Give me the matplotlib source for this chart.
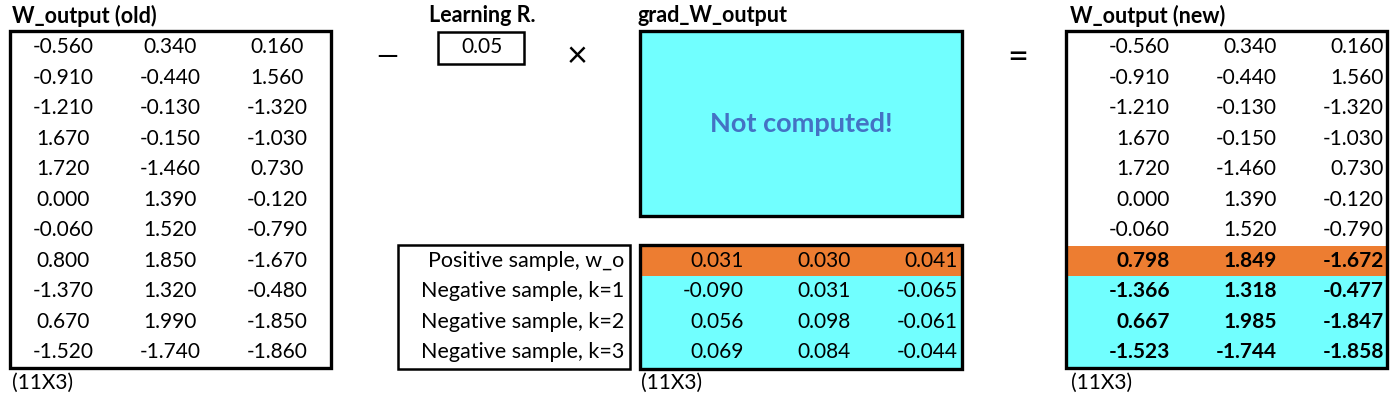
import matplotlib
matplotlib.use("Agg")
import matplotlib.pyplot as plt
from matplotlib.patches import Rectangle

# ---------------- data ----------------
w_old = [
    [-0.560, 0.340, 0.160],
    [-0.910, -0.440, 1.560],
    [-1.210, -0.130, -1.320],
    [1.670, -0.150, -1.030],
    [1.720, -1.460, 0.730],
    [0.000, 1.390, -0.120],
    [-0.060, 1.520, -0.790],
    [0.800, 1.850, -1.670],
    [-1.370, 1.320, -0.480],
    [0.670, 1.990, -1.850],
    [-1.520, -1.740, -1.860],
]
learning_rate = 0.05
grad_labels = ["Positive sample, w_o", "Negative sample, k=1",
               "Negative sample, k=2", "Negative sample, k=3"]
grad_rows = [
    [0.031, 0.030, 0.041],
    [-0.090, 0.031, -0.065],
    [0.056, 0.098, -0.061],
    [0.069, 0.084, -0.044],
]
w_new = [
    [-0.560, 0.340, 0.160],
    [-0.910, -0.440, 1.560],
    [-1.210, -0.130, -1.320],
    [1.670, -0.150, -1.030],
    [1.720, -1.460, 0.730],
    [0.000, 1.390, -0.120],
    [-0.060, 1.520, -0.790],
    [0.798, 1.849, -1.672],
    [-1.366, 1.318, -0.477],
    [0.667, 1.985, -1.847],
    [-1.523, -1.744, -1.858],
]
updated_rows = [7, 8, 9, 10]   # rows touched by the update
shape_label = "(11X3)"
titles = ["W_output (old)", "Learning R.", "grad_W_output", "W_output (new)"]
not_computed = "Not computed!"

# ---------------- style ----------------
CYAN = "#71FFFF"
ORANGE = "#ED7D31"
BLUE = "#4472C4"
FONT = "Lato"
FS = 15
LFS = 15.5
TFS = 15.5

W, H = 1397, 401
fig = plt.figure(figsize=(W / 100, H / 100), dpi=100)
ax = fig.add_axes([0, 0, 1, 1])
ax.set_xlim(0, W)
ax.set_ylim(H, 0)
ax.axis("off")

top = 32.0
rh = 30.5


def rowc(i):
    return top + rh * (i + 0.5)


def box(x0, y0, x1, y1, lw=2.4, fc="none"):
    ax.add_patch(Rectangle((x0, y0), x1 - x0, y1 - y0, facecolor=fc,
                           edgecolor="black", linewidth=lw, zorder=3))


def fill(x0, y0, x1, y1, fc):
    ax.add_patch(Rectangle((x0, y0), x1 - x0, y1 - y0, facecolor=fc,
                           edgecolor="none", zorder=1))


def txt(x, y, s, ha="center", bold=False, size=FS, color="black"):
    ax.text(x, y, s, ha=ha, va="center", fontsize=size, family=FONT,
            fontweight="bold" if bold else "normal", color=color, zorder=4)


# ----- W_output (old) -----
txt(12, 16, titles[0], ha="left", bold=True, size=TFS)
box(10, 31, 331, 368)
old_cols = [63, 170, 277]
for i, row in enumerate(w_old):
    for j, v in enumerate(row):
        txt(old_cols[j], rowc(i), f"{v:.3f}")
txt(12, 383, shape_label, ha="left")

# ----- minus -----
txt(387, 57, "—", size=20)

# ----- learning rate -----
txt(482, 16, titles[1], bold=True, size=TFS)
box(438, 32, 524, 64, lw=1.8)
txt(482, 47, f"{learning_rate:.2f}")

# ----- times -----
txt(577, 57, "×", size=26)

# ----- grad_W_output -----
txt(638, 16, titles[2], ha="left", bold=True, size=TFS)
fill(640, 31, 962, 216, CYAN)
box(640, 31, 962, 216)
txt(801, 124, not_computed, bold=True, size=19.5, color=BLUE)

# lower grad rows
gy0 = top + rh * updated_rows[0] - 1
gy1 = top + rh * (updated_rows[-1] + 1) + 1
box(398, gy0, 630, gy1, lw=1.8)
grad_cols = [744, 851, 958]
for k, (lab, row) in enumerate(zip(grad_labels, grad_rows)):
    r = updated_rows[k]
    fill(640, top + rh * r, 962, top + rh * (r + 1), ORANGE if k == 0 else CYAN)
    txt(624, rowc(r), lab, ha="right", size=LFS)
    for j, v in enumerate(row):
        txt(grad_cols[j], rowc(r), f"{v:.3f}", ha="right")
box(640, gy0, 962, gy1)
txt(641, 383, shape_label, ha="left")

# ----- equals -----
txt(1018, 57, "=", size=26)

# ----- W_output (new) -----
txt(1070, 16, titles[3], ha="left", bold=True, size=TFS)
new_cols = [1170, 1277, 1384]
for k, r in enumerate(updated_rows):
    fill(1066, top + rh * r, 1387, top + rh * (r + 1), ORANGE if k == 0 else CYAN)
box(1066, 31, 1387, 368)
for i, row in enumerate(w_new):
    for j, v in enumerate(row):
        txt(new_cols[j], rowc(i), f"{v:.3f}", ha="right", bold=i in updated_rows)
txt(1071, 383, shape_label, ha="left")

fig.savefig("out.png", dpi=100)
